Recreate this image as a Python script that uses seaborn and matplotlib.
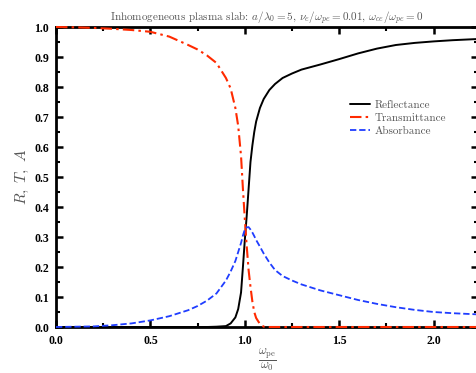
import numpy as np
import pandas as pd
import matplotlib
matplotlib.use("Agg")
import matplotlib.pyplot as plt
from matplotlib.ticker import MultipleLocator
import seaborn as sns

# ---- data ----
omega = [0.0, 0.1, 0.2, 0.3, 0.4, 0.5, 0.6, 0.7, 0.75, 0.8, 0.85, 0.9, 0.925,
         0.95, 0.965, 0.98, 0.99, 1.0, 1.01, 1.02, 1.03, 1.04, 1.05, 1.06,
         1.08, 1.1, 1.13, 1.16, 1.2, 1.25, 1.3, 1.4, 1.5, 1.6, 1.7, 1.8,
         1.9, 2.0, 2.1, 2.235]
reflectance = [0.0, 0.0, 0.0, 0.0, 0.0, 0.0, 0.0, 0.0, 0.0, 0.0, 0.001, 0.003,
               0.012, 0.032, 0.06, 0.115, 0.2, 0.29, 0.37, 0.46, 0.55, 0.605,
               0.65, 0.685, 0.73, 0.76, 0.79, 0.81, 0.83, 0.845, 0.858, 0.875,
               0.893, 0.912, 0.928, 0.94, 0.947, 0.952, 0.956, 0.96]
transmittance = [1.0, 0.999, 0.997, 0.994, 0.99, 0.984, 0.968, 0.94, 0.925,
                 0.905, 0.88, 0.83, 0.795, 0.73, 0.67, 0.57, 0.46, 0.36, 0.27,
                 0.19, 0.134, 0.085, 0.05, 0.03, 0.01, 0.001, 0.0, 0.0, 0.0,
                 0.0, 0.0, 0.0, 0.0, 0.0, 0.0, 0.0, 0.0, 0.0, 0.0, 0.0]
absorbance = [0.0, 0.001, 0.002, 0.006, 0.012, 0.022, 0.036, 0.056, 0.07,
              0.088, 0.112, 0.155, 0.185, 0.22, 0.25, 0.28, 0.305, 0.325,
              0.332, 0.333, 0.325, 0.315, 0.303, 0.29, 0.268, 0.245, 0.215,
              0.19, 0.17, 0.155, 0.142, 0.122, 0.106, 0.09, 0.077, 0.066,
              0.057, 0.05, 0.046, 0.042]
series_names = ["Reflectance", "Transmittance", "Absorbance"]
title_text = (r"Inhomogeneous plasma slab: $a/\lambda_0 = 5$, "
              r"$\nu_e/\omega_{pe} = 0.01$, $\omega_{ce}/\omega_{pe} = 0$")

df = pd.DataFrame({
    "omega": omega * 3,
    "value": reflectance + transmittance + absorbance,
    "series": [series_names[0]] * len(omega) + [series_names[1]] * len(omega)
              + [series_names[2]] * len(omega),
})

sns.set_theme(style="white")
plt.rcParams["mathtext.fontset"] = "cm"
plt.rcParams["axes.unicode_minus"] = False

fig = plt.figure(figsize=(4.76, 3.73), dpi=100)
ax = fig.add_axes([56 / 476, 1 - 327 / 373, (478 - 56) / 476, 300 / 373])

colors = {"Reflectance": "#000000", "Transmittance": "#ff2a00",
          "Absorbance": "#1f3dff"}
styles = {"Reflectance": dict(lw=1.4),
          "Transmittance": dict(lw=1.5, dashes=(5.5, 2, 1.2, 2)),
          "Absorbance": dict(lw=1.3, dashes=(3.5, 1.6))}
for name in series_names:
    sub = df[df["series"] == name]
    st = styles[name]
    line_kw = {}
    if "dashes" in st:
        line_kw["dashes"] = st["dashes"]
    sns.lineplot(data=sub, x="omega", y="value", ax=ax, color=colors[name],
                 linewidth=st["lw"], label=name, clip_on=False, zorder=3,
                 **line_kw)

ax.set_xlim(0, 2.235)
ax.set_ylim(0, 1.0)
ax.xaxis.set_major_locator(MultipleLocator(0.5))
ax.xaxis.set_minor_locator(MultipleLocator(0.25))
ax.yaxis.set_major_locator(MultipleLocator(0.1))
ax.yaxis.set_minor_locator(MultipleLocator(0.05))
ax.set_xticks([0.0, 0.5, 1.0, 1.5, 2.0])
ax.set_xticklabels(["0.0", "0.5", "1.0", "1.5", "2.0"])
ax.set_yticks([i / 10 for i in range(11)])
ax.set_yticklabels([f"{i / 10:.1f}" for i in range(11)])

for s in ax.spines.values():
    s.set_visible(True)
    s.set_linewidth(2.0)
    s.set_color("black")
ax.tick_params(which="both", direction="in", top=True, right=True,
               bottom=True, left=True, color="black")
ax.tick_params(which="major", length=5, width=1.8, pad=5)
ax.tick_params(axis="x", which="major", pad=6)
ax.tick_params(which="minor", length=3, width=1.5)
for lab in ax.get_xticklabels() + ax.get_yticklabels():
    lab.set_fontfamily("Liberation Serif")
    lab.set_fontweight("bold")
    lab.set_fontsize(8.5)
    lab.set_color("black")

gray = "#555555"
ax.set_title(title_text, fontsize=8, color=gray, family="cmr10", pad=4.5)
ax.set_ylabel(r"$R,\ T,\ A$", fontsize=11, color=gray, labelpad=2)
ax.set_xlabel(r"$\frac{\omega_{\rm pe}}{\omega_0}$", fontsize=12.5,
              color=gray, labelpad=0)

leg = ax.legend(loc="upper left", bbox_to_anchor=(0.685, 0.772), frameon=False,
                handlelength=1.8, handletextpad=0.5, labelspacing=0.3,
                prop={"family": "cmr10", "size": 8}, borderaxespad=0)
for t in leg.get_texts():
    t.set_color(gray)
ax.grid(False)

fig.savefig("out.png", dpi=100)
